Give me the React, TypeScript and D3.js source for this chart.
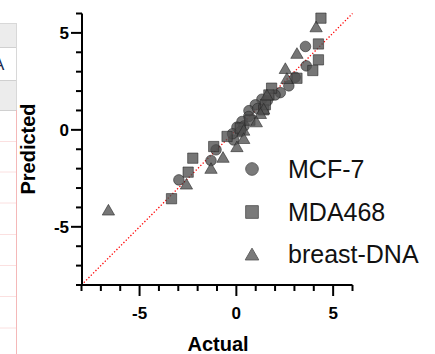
import React from "react";
import * as d3 from "d3";

const mcf7: [number, number][] = [
  [3.57, 4.3], [3.61, 3.3], [3.04, 2.71], [2.71, 2.27], [2.27, 1.92], [1.32, 1.58],
  [0.98, 1.29], [0.65, 0.99], [0.64, 0.69], [0.29, 0.43], [0.03, 0.14], [-0.14, -0.52],
  [-1.05, -1.03], [-1.31, -1.58], [-2.97, -2.58], [1.6, 1.5], [2.0, 1.8], [0.4, 0.2],
  [0.2, -0.1], [1.1, 1.1], [-0.2, -0.2],
];
const mda468: [number, number][] = [
  [4.37, 5.76], [4.24, 4.43], [4.24, 3.61], [3.95, 3.06], [3.13, 2.66], [1.82, 2.15],
  [1.68, 1.8], [1.41, 1.03], [0.2, 0.09], [-0.48, -0.34], [-1.17, -0.86], [-2.25, -1.46],
  [-2.49, -2.18], [-3.35, -3.55], [1.5, 1.3], [0.7, 0.5],
];
const breastDNA: [number, number][] = [
  [4.12, 5.24], [3.13, 3.87], [2.53, 3.09], [2.61, 2.58], [1.58, 1.72], [1.41, 1.0],
  [1.24, 0.77], [1.03, 0.34], [0.38, -0.09], [0.38, -0.52], [0.03, -0.94], [-0.69, -1.49],
  [-1.31, -2.06], [-2.58, -2.87], [-6.61, -4.21],
];
const seriesNames = ["MCF-7", "MDA468", "breast-DNA"];
const majorTicks = [-5, 0, 5];
const minorTicks = [-8, -7, -6, -5, -4, -3, -2, -1, 0, 1, 2, 3, 4, 5, 6];

const W = 435, H = 354;
const x = d3.scaleLinear().domain([-8, 6]).range([81.5, 352.5]);
const y = d3.scaleLinear().domain([-8, 6]).range([285, 13.5]);

const symbols = [d3.symbolCircle, d3.symbolSquare, d3.symbolTriangle];
const dataSizes = [88, 106, 66];
const legendSizes = [125, 160, 80];
const font = "Liberation Sans, Arial, sans-serif";

export default function App() {
  const allSeries = [mcf7, mda468, breastDNA];
  const axX = 82, axY = 285;
  const tableRows = [141.5, 172, 203, 234.5, 265.5, 296.5, 328];
  return (
    <svg width={W} height={H} style={{ position: "absolute", left: 0, top: 0, background: "#fff" }}>
      <defs>
        <clipPath id="tbl"><rect x={0} y={0} width={16} height={H} /></clipPath>
      </defs>
      {/* partial table at left */}
      <rect x={0} y={23} width={16} height={24} fill="#ececec" />
      <rect x={0} y={80} width={16} height={30} fill="#ececec" />
      <line x1={0} x2={16.5} y1={23.5} y2={23.5} stroke="#d8d8d8" />
      <line x1={0} x2={16.5} y1={47.5} y2={47.5} stroke="#d0d0d0" />
      <line x1={0} x2={16.5} y1={80.5} y2={80.5} stroke="#d0d0d0" />
      <line x1={0} x2={16.5} y1={110.5} y2={110.5} stroke="#d0d0d0" />
      <line x1={16.5} x2={16.5} y1={23} y2={110} stroke="#d8d8d8" />
      <line x1={16.5} x2={16.5} y1={110} y2={H} stroke="#f4b8b8" />
      {tableRows.map((r, i) => (
        <line key={i} x1={0} x2={16} y1={r} y2={r} stroke="#fbe0e0" />
      ))}
      <g clipPath="url(#tbl)">
        <text x={-7} y={70} fontFamily={font} fontSize={17} fill="#1a2a50">A</text>
      </g>

      {/* diagonal */}
      <line x1={x(-8)} y1={y(-8)} x2={x(6)} y2={y(6)} stroke="#ff0000" strokeWidth={1.3} strokeDasharray="1.3 2" />

      {/* points */}
      {allSeries.map((s, si) =>
        s.map((d, i) => (
          <path
            key={si + "-" + i}
            d={d3.symbol().type(symbols[si]).size(dataSizes[si])() as string}
            transform={`translate(${x(d[0])},${y(d[1])})`}
            fill="#505050"
            fillOpacity={0.78}
            stroke="#222"
            strokeOpacity={0.55}
            strokeWidth={1}
          />
        ))
      )}

      {/* axes */}
      <line x1={axX} x2={axX} y1={y(6)} y2={axY + 1} stroke="#000" strokeWidth={2} />
      <line x1={axX - 1} x2={x(6)} y1={axY} y2={axY} stroke="#000" strokeWidth={2} />
      {minorTicks.map((t) => {
        const major = majorTicks.includes(t);
        const len = major ? 11 : 6;
        return (
          <g key={"t" + t}>
            <line x1={axX - len} x2={axX} y1={y(t)} y2={y(t)} stroke="#000" strokeWidth={2} />
            <line x1={x(t)} x2={x(t)} y1={axY} y2={axY + len} stroke="#000" strokeWidth={2} />
          </g>
        );
      })}
      {majorTicks.map((t) => (
        <g key={"l" + t} fontFamily={font} fontWeight="bold" fontSize={17}>
          <text x={69} y={y(t)} dy="0.36em" textAnchor="end">{t}</text>
          <text x={x(t)} y={319} textAnchor="middle">{t}</text>
        </g>
      ))}
      <text x={218} y={351} textAnchor="middle" fontFamily={font} fontWeight="bold" fontSize={20}>Actual</text>
      <text transform={`translate(35,149) rotate(-90)`} textAnchor="middle" fontFamily={font} fontWeight="bold" fontSize={20}>Predicted</text>

      {/* legend */}
      {seriesNames.map((n, i) => (
        <g key={n}>
          <path
            d={d3.symbol().type(symbols[i]).size(legendSizes[i])() as string}
            transform={`translate(252,${[169, 212, 256][i]})`}
            fill="#7a7a7a"
            stroke="#606060"
            strokeWidth={1}
          />
          <text x={288} y={[178, 221, 263][i]} fontFamily={font} fontSize={25} fill="#111">{n}</text>
        </g>
      ))}
    </svg>
  );
}
